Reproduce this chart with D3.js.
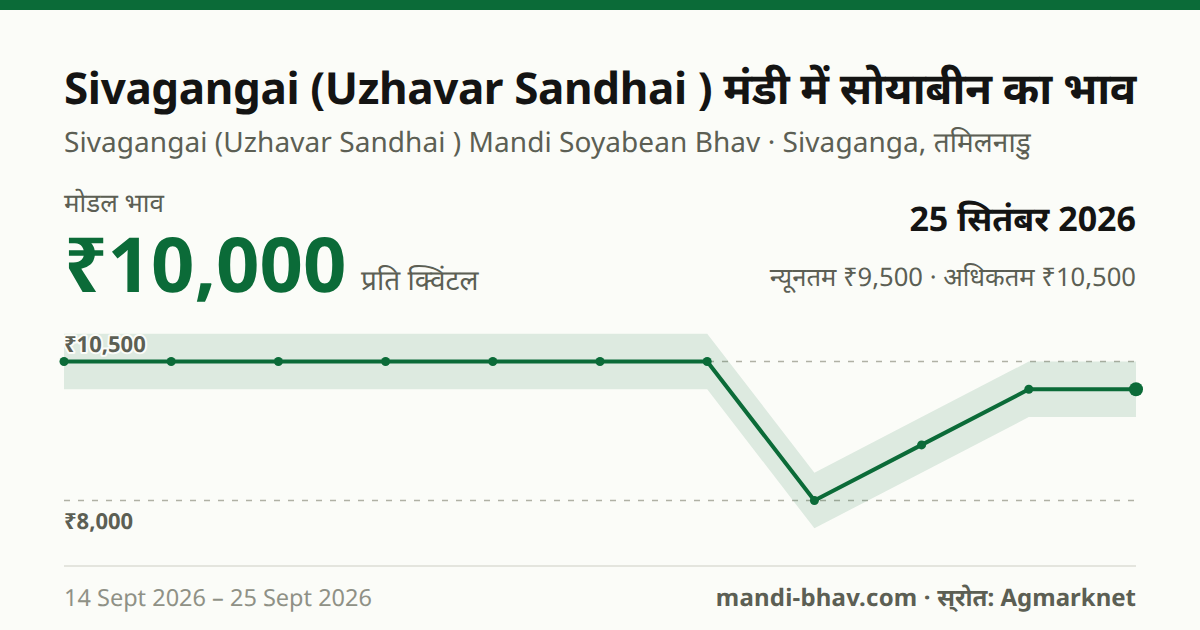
<!DOCTYPE html>
<html>
<head>
<meta charset="utf-8">
<script src="https://cdn.jsdelivr.net/npm/d3@7"></script>
<style>
  html, body { margin: 0; padding: 0; background: #fbfcf8; }
  svg { display: block; }
  text { font-family: "Noto Sans", "Noto Sans Devanagari", sans-serif; text-rendering: geometricPrecision; }
  .no-conjunct { font-feature-settings: "rkrf" 0, "vatu" 0, "akhn" 0, "blwf" 0, "half" 0, "cjct" 0; }
</style>
</head>
<body>
<div id="chart-container"></div>
<script>
// Data
const dayIndex = [0, 1, 2, 3, 4, 5, 6, 7, 8, 9, 10];
const modalPrice = [10500, 10500, 10500, 10500, 10500, 10500, 10500, 8000, 9000, 10000, 10000];
const maxPrice = [11000, 11000, 11000, 11000, 11000, 11000, 11000, 8500, 9500, 10500, 10500];
const minPrice = [10000, 10000, 10000, 10000, 10000, 10000, 10000, 7500, 8500, 9500, 9500];
const guideTicks = [10500, 8000];
const guideLabels = ["₹10,500", "₹8,000"];

const width = 1200;
const height = 630;
const green = "#0b6b38";

const svg = d3.select("#chart-container")
  .append("svg")
    .attr("width", width)
    .attr("height", height);

svg.append("rect")
  .attr("width", width)
  .attr("height", height)
  .attr("fill", "#fbfcf8");

svg.append("rect")
  .attr("width", width)
  .attr("height", 10)
  .attr("fill", green);

// Header texts
function label(x, y, str, size, weight, fill, anchor) {
  return svg.append("text")
    .attr("x", x)
    .attr("y", y)
    .attr("font-size", size)
    .attr("font-weight", weight)
    .attr("fill", fill)
    .attr("text-anchor", anchor || "start")
    .text(str);
}

label(64, 104, "Sivagangai (Uzhavar Sandhai ) मंडी में सोयाबीन का भाव", 44, 700, "#141413")
  .attr("letter-spacing", -0.38);
label(64, 152, "Sivagangai (Uzhavar Sandhai ) Mandi Soyabean Bhav · Sivaganga, तमिलनाडु", 28, 400, "#5c5f54")
  .attr("letter-spacing", 0.06);
label(64, 212, "मोडल भाव", 26, 400, "#5c5f54");
label(64, 292, "₹10,000", 76, 700, green);
label(361, 290, "प्रति क्विंटल", 28, 400, "#5c5f54");
label(1136, 231, "25 सितंबर 2026", 34, 700, "#141413", "end");
label(1136, 286, "न्यूनतम ₹9,500 · अधिकतम ₹10,500", 25.6, 400, "#5c5f54", "end");

// Scales
const x = d3.scalePoint()
  .domain(dayIndex)
  .range([64, 1136]);

const y = d3.scaleLinear()
  .domain([8000, 10500])
  .range([500.5, 361.5]);

// Dashed guides
svg.selectAll("line.guide")
  .data(guideTicks)
  .join("line")
  .attr("class", "guide")
  .attr("x1", 64)
  .attr("x2", 1136)
  .attr("y1", d => y(d))
  .attr("y2", d => y(d))
  .attr("stroke", "#b0b1a5")
  .attr("stroke-width", 1.5)
  .attr("stroke-dasharray", "6 8");

// Min-max band
const band = d3.area()
  .x(d => x(d))
  .y0(d => y(minPrice[d]))
  .y1(d => y(maxPrice[d]));

svg.append("path")
  .datum(dayIndex)
  .attr("fill", green)
  .attr("fill-opacity", 0.12)
  .attr("d", band);

// Modal price line
const line = d3.line()
  .x(d => x(d))
  .y(d => y(modalPrice[d]));

svg.append("path")
  .datum(dayIndex)
  .attr("fill", "none")
  .attr("stroke", green)
  .attr("stroke-width", 4)
  .attr("stroke-linejoin", "round")
  .attr("d", line);

svg.selectAll("circle")
  .data(dayIndex)
  .join("circle")
  .attr("cx", d => x(d))
  .attr("cy", d => y(modalPrice[d]))
  .attr("r", d => d === dayIndex.length - 1 ? 7 : 4.5)
  .attr("fill", green);

// Guide labels, first sits above its line and second below
svg.selectAll("text.tick")
  .data(guideTicks)
  .join("text")
  .attr("class", "tick")
  .attr("x", 64)
  .attr("y", (d, i) => y(d) + (i === 0 ? -10 : 28))
  .attr("font-size", 22)
  .attr("font-weight", 700)
  .attr("fill", "#5c5f54")
  .attr("stroke", "#fbfcf8")
  .attr("stroke-width", 4)
  .attr("stroke-linejoin", "round")
  .attr("paint-order", "stroke")
  .text((d, i) => guideLabels[i]);

// Footer
svg.append("line")
  .attr("x1", 64)
  .attr("x2", 1136)
  .attr("y1", 566)
  .attr("y2", 566)
  .attr("stroke", "#e4e5de")
  .attr("stroke-width", 2);

label(64, 606, "14 Sept 2026 – 25 Sept 2026", 23.5, 400, "#8f9186");

const source = label(1136, 606, "", 24, 700, "#5c5f54", "end");
source.append("tspan").attr("letter-spacing", 0.2).text("mandi-bhav.com · ");
source.append("tspan").attr("class", "no-conjunct").text("स्रोत");
source.append("tspan").text(": Agmarknet");
</script>
</body>
</html>
